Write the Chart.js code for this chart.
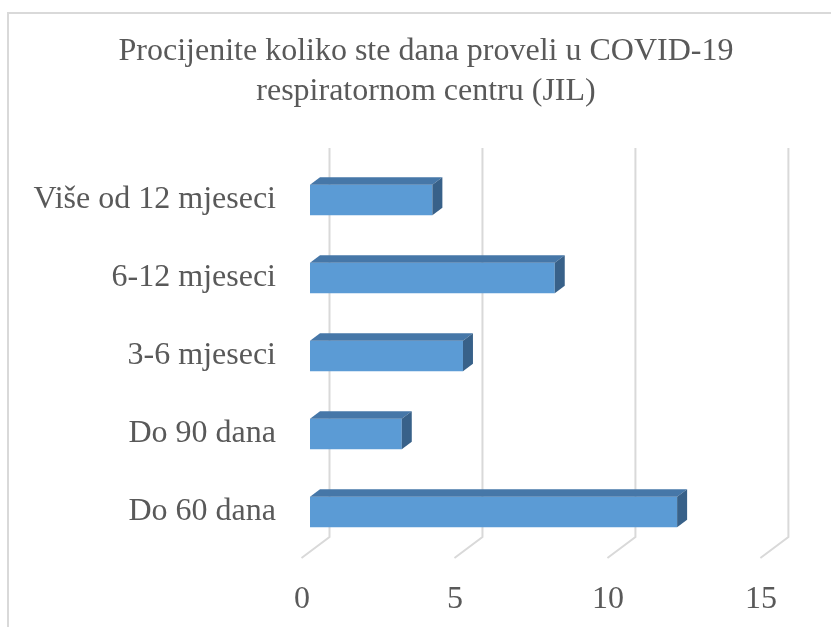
<!DOCTYPE html>
<html>
<head>
<meta charset="utf-8">
<script src="https://cdn.jsdelivr.net/npm/chart.js@4"></script>
<style>
	body { margin: 0; background: #fff; }
</style>
</head>
<body>
<canvas id="chart1" width="831" height="627"></canvas>
<script>
'use strict';

var CATEGORIES = ['Više od 12 mjeseci', '6-12 mjeseci', '3-6 mjeseci', 'Do 90 dana', 'Do 60 dana'];
var VALUES = [4, 8, 5, 3, 12];
var X_TICKS = [0, 5, 10, 15];

var TEXT_COLOR = '#595959';
var GRID_COLOR = '#d9d9d9';
var FONT = 'Liberation Serif, Times New Roman, serif';

// depth offsets for the fake 3D look
var DEPTH_X = 10, DEPTH_Y = 7.5;
var WALL_X = 19.5, FLOOR_DX = 28, FLOOR_DY = 21;

// border around the whole chart
var frame = {
	id: 'frame',
	beforeDraw: function(chart) {
		var c = chart.ctx;
		c.save();
		c.strokeStyle = GRID_COLOR;
		c.lineWidth = 2;
		c.strokeRect(8, 13, chart.width, chart.height);
		c.restore();
	}
};

// back wall gridlines + floor diagonals
var wall = {
	id: 'wall',
	beforeDatasetsDraw: function(chart) {
		var c = chart.ctx;
		var xs = chart.scales.x;
		var floorY = chart.chartArea.bottom - 14;
		c.save();
		c.strokeStyle = GRID_COLOR;
		c.lineWidth = 2;
		X_TICKS.forEach(function(v) {
			var x = xs.getPixelForValue(v) + WALL_X;
			c.beginPath();
			c.moveTo(x, 148);
			c.lineTo(x, floorY);
			c.lineTo(x - FLOOR_DX, floorY + FLOOR_DY);
			c.stroke();
		});
		c.restore();
	}
};

// top and side faces of each bar
var faces = {
	id: 'faces',
	afterDatasetsDraw: function(chart) {
		var c = chart.ctx;
		chart.getDatasetMeta(0).data.forEach(function(bar) {
			var top = bar.y - bar.height / 2;
			var bottom = bar.y + bar.height / 2;
			c.save();
			c.fillStyle = '#4677a8';
			c.beginPath();
			c.moveTo(bar.base, top);
			c.lineTo(bar.base + DEPTH_X, top - DEPTH_Y);
			c.lineTo(bar.x + DEPTH_X, top - DEPTH_Y);
			c.lineTo(bar.x, top);
			c.closePath();
			c.fill();
			c.fillStyle = '#386189';
			c.beginPath();
			c.moveTo(bar.x, top);
			c.lineTo(bar.x + DEPTH_X, top - DEPTH_Y);
			c.lineTo(bar.x + DEPTH_X, bottom - DEPTH_Y);
			c.lineTo(bar.x, bottom);
			c.closePath();
			c.fill();
			c.restore();
		});
	}
};

var ctx = document.getElementById('chart1').getContext('2d');
var chart = new Chart(ctx, {
	type: 'bar',
	data: {
		labels: CATEGORIES,
		datasets: [{
			data: VALUES,
			backgroundColor: '#5b9bd5',
			borderWidth: 0,
			barPercentage: 0.39,
			categoryPercentage: 1
		}]
	},
	options: {
		indexAxis: 'y',
		responsive: false,
		animation: false,
		layout: {
			padding: { left: 21, right: 0, top: 0, bottom: 0 }
		},
		plugins: {
			legend: { display: false },
			tooltip: { enabled: false },
			title: {
				display: true,
				text: ['Procijenite koliko ste dana proveli u COVID-19', 'respiratornom centru (JIL)'],
				color: TEXT_COLOR,
				font: { family: FONT, size: 32, weight: 'normal', lineHeight: 1.25 },
				padding: { top: 32, bottom: 49 }
			}
		},
		scales: {
			x: {
				min: 0,
				max: 17.03,
				afterBuildTicks: function(s) {
					s.ticks = X_TICKS.map(function(v) { return { value: v }; });
				},
				afterFit: function(s) { s.height = 76; },
				grid: { display: false },
				border: { display: false },
				ticks: {
					color: TEXT_COLOR,
					font: { family: FONT, size: 32 },
					padding: 21,
					labelOffset: -8
				}
			},
			y: {
				afterFit: function(s) { s.width = 289; },
				grid: { display: false },
				border: { display: false },
				ticks: {
					color: TEXT_COLOR,
					font: { family: FONT, size: 32 },
					padding: 26,
					autoSkip: false
				}
			}
		}
	},
	plugins: [frame, wall, faces]
});
</script>
</body>
</html>
